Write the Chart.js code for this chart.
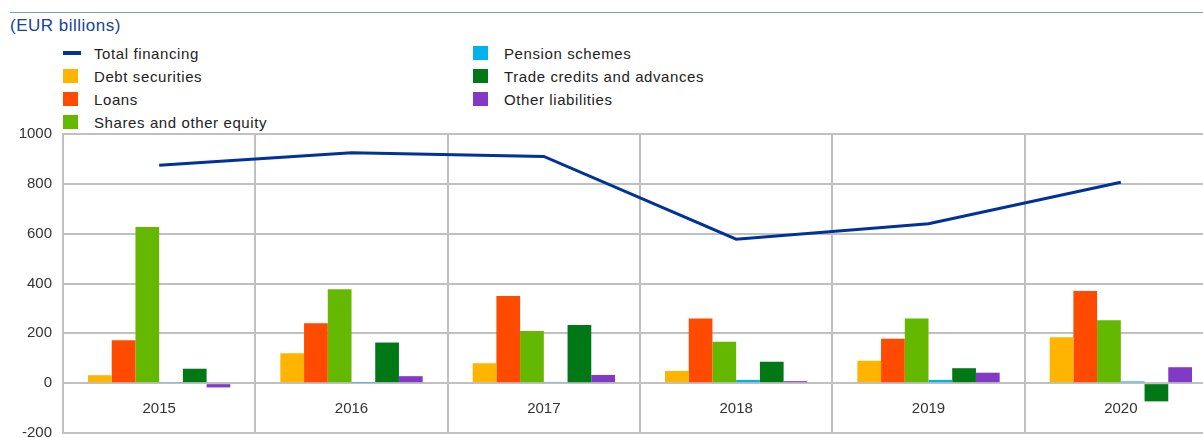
<!DOCTYPE html>
<html>
<head>
<meta charset="utf-8">
<script src="https://cdn.jsdelivr.net/npm/chart.js@4"></script>
<style>
  html, body { margin: 0; padding: 0; background: #fff; overflow: hidden; width: 1203px; height: 438px; }
  body { position: relative; font-family: "Liberation Sans", Arial, sans-serif; }
  #topline { position: absolute; left: 10px; top: 12px; width: 1193px; height: 0; border-top: 1px solid #7f97c9; }
  #title { position: absolute; left: 10px; top: 16px; font-size: 17px; color: #14439a; letter-spacing: 0.5px; }
  .leg { position: absolute; font-size: 15px; color: #222; letter-spacing: 0.6px; line-height: 18px; white-space: nowrap; }
  .sw { position: absolute; width: 15px; height: 14px; }
  .ln { position: absolute; width: 18px; height: 4px; }
  #wrap { position: absolute; left: 0; top: 120px; width: 1218px; height: 318px; }
</style>
</head>
<body>
<div id="topline"></div>
<div id="title">(EUR billions)</div>
<div id="legend"></div>
<div id="wrap"><canvas id="c" width="1218" height="318"></canvas></div>
<script>
const categories = ["2015", "2016", "2017", "2018", "2019", "2020"];
const totalFinancing = [875, 925, 910, 578, 640, 806];
const debtSecurities = [32, 120, 80, 49, 90, 184];
const loans = [172, 240, 350, 260, 178, 370];
const sharesEquity = [627, 377, 209, 166, 260, 253];
const pensionSchemes = [3, 2, 5, 13, 13, 7];
const tradeCredits = [58, 163, 233, 86, 60, -73];
const otherLiabilities = [-17, 28, 33, 8, 42, 64];
const yTicks = [-200, 0, 200, 400, 600, 800, 1000];

const seriesNames = ["Total financing", "Debt securities", "Loans", "Shares and other equity",
                     "Pension schemes", "Trade credits and advances", "Other liabilities"];
const colors = ["#003299", "#FFB400", "#FF4B00", "#65B800", "#00B1EA", "#007816", "#8139C6"];

// HTML legend, two columns
const legendPos = [
  [63, 53], [63, 76], [63, 99], [63, 122],
  [473, 53], [473, 76], [473, 99]
];
const legendEl = document.getElementById('legend');
seriesNames.forEach((name, i) => {
  const [x, y] = legendPos[i];
  const m = document.createElement('div');
  if (i === 0) {
    m.className = 'ln';
    m.style.left = x + 'px'; m.style.top = (y - 2) + 'px';
  } else {
    m.className = 'sw';
    m.style.left = x + 'px'; m.style.top = (y - 7) + 'px';
  }
  m.style.background = colors[i];
  legendEl.appendChild(m);
  const t = document.createElement('div');
  t.className = 'leg';
  t.textContent = name;
  t.style.left = (x + 31) + 'px'; t.style.top = (y - 8) + 'px';
  legendEl.appendChild(t);
});

const barSeries = [debtSecurities, loans, sharesEquity, pensionSchemes, tradeCredits, otherLiabilities];
const datasets = [{
  type: 'line',
  label: seriesNames[0],
  data: totalFinancing,
  borderColor: colors[0],
  borderWidth: 3,
  pointRadius: 0,
  tension: 0,
  fill: false,
  order: 0
}];
barSeries.forEach((d, i) => {
  datasets.push({
    type: 'bar',
    label: seriesNames[i + 1],
    data: d,
    backgroundColor: colors[i + 1],
    borderWidth: 0,
    barPercentage: 1,
    categoryPercentage: 0.74,
    order: 1
  });
});

new Chart(document.getElementById('c'), {
  data: { labels: categories, datasets },
  options: {
    responsive: false,
    animation: false,
    layout: { padding: { top: 14, bottom: 5, left: 0, right: 1 } },
    plugins: { legend: { display: false }, tooltip: { enabled: false } },
    scales: {
      x: {
        position: { y: 0 },
        offset: true,
        afterFit: (s) => { s.height = 0; },
        grid: { offset: true, color: '#c0c0c0', lineWidth: 2, drawTicks: false },
        border: { display: false },
        ticks: { color: '#333', font: { family: 'Liberation Sans', size: 15 }, padding: 17, maxRotation: 0 }
      },
      y: {
        min: -200, max: 1000,
        afterBuildTicks: (s) => { s.ticks = yTicks.map(v => ({ value: v })); },
        afterFit: (s) => { s.width = 63; s.paddingTop = 0; s.paddingBottom = 0; },
        grid: { color: '#c0c0c0', lineWidth: 2, drawTicks: false },
        border: { display: true, color: '#c0c0c0', width: 2 },
        ticks: { color: '#333', font: { family: 'Liberation Sans', size: 15 }, padding: 11,
                 callback: (v) => String(v) }
      }
    }
  }
});
</script>
</body>
</html>
